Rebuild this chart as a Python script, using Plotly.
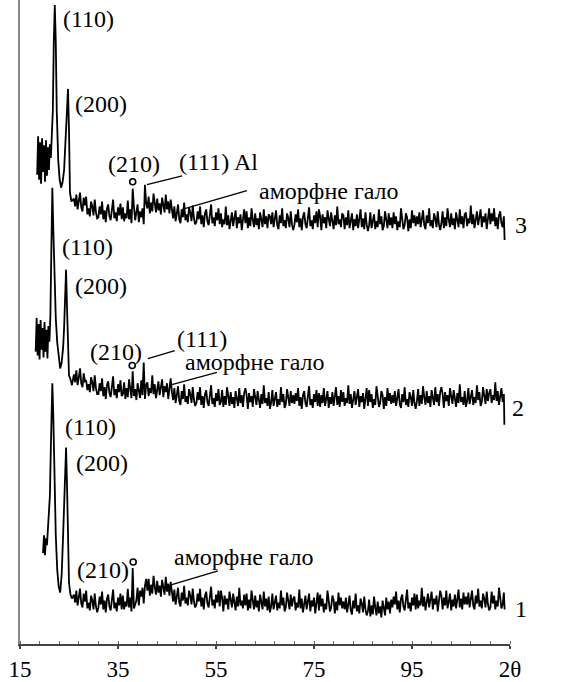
import plotly.graph_objects as go

# ---------------- data (2θ in degrees, intensity in arbitrary units, curves stacked) ----------------
theta_grid = [
    26.0, 26.25, 26.5, 26.75, 27.0, 27.25, 27.5, 27.75, 28.0, 28.25, 28.5, 28.75, 29.0, 29.25, 29.5, 29.75, 30.0, 30.25, 30.5, 30.75,
    31.0, 31.25, 31.5, 31.75, 32.0, 32.25, 32.5, 32.75, 33.0, 33.25, 33.5, 33.75, 34.0, 34.25, 34.5, 34.75, 35.0, 35.25, 35.5, 35.75,
    36.0, 36.25, 36.5, 36.75, 37.0, 37.25, 37.5, 37.75, 38.0, 38.25, 38.5, 38.75, 39.0, 39.25, 39.5, 39.75, 40.0, 40.25, 40.5, 40.75,
    41.0, 41.25, 41.5, 41.75, 42.0, 42.25, 42.5, 42.75, 43.0, 43.25, 43.5, 43.75, 44.0, 44.25, 44.5, 44.75, 45.0, 45.25, 45.5, 45.75,
    46.0, 46.25, 46.5, 46.75, 47.0, 47.25, 47.5, 47.75, 48.0, 48.25, 48.5, 48.75, 49.0, 49.25, 49.5, 49.75, 50.0, 50.25, 50.5, 50.75,
    51.0, 51.25, 51.5, 51.75, 52.0, 52.25, 52.5, 52.75, 53.0, 53.25, 53.5, 53.75, 54.0, 54.25, 54.5, 54.75, 55.0, 55.25, 55.5, 55.75,
    56.0, 56.25, 56.5, 56.75, 57.0, 57.25, 57.5, 57.75, 58.0, 58.25, 58.5, 58.75, 59.0, 59.25, 59.5, 59.75, 60.0, 60.25, 60.5, 60.75,
    61.0, 61.25, 61.5, 61.75, 62.0, 62.25, 62.5, 62.75, 63.0, 63.25, 63.5, 63.75, 64.0, 64.25, 64.5, 64.75, 65.0, 65.25, 65.5, 65.75,
    66.0, 66.25, 66.5, 66.75, 67.0, 67.25, 67.5, 67.75, 68.0, 68.25, 68.5, 68.75, 69.0, 69.25, 69.5, 69.75, 70.0, 70.25, 70.5, 70.75,
    71.0, 71.25, 71.5, 71.75, 72.0, 72.25, 72.5, 72.75, 73.0, 73.25, 73.5, 73.75, 74.0, 74.25, 74.5, 74.75, 75.0, 75.25, 75.5, 75.75,
    76.0, 76.25, 76.5, 76.75, 77.0, 77.25, 77.5, 77.75, 78.0, 78.25, 78.5, 78.75, 79.0, 79.25, 79.5, 79.75, 80.0, 80.25, 80.5, 80.75,
    81.0, 81.25, 81.5, 81.75, 82.0, 82.25, 82.5, 82.75, 83.0, 83.25, 83.5, 83.75, 84.0, 84.25, 84.5, 84.75, 85.0, 85.25, 85.5, 85.75,
    86.0, 86.25, 86.5, 86.75, 87.0, 87.25, 87.5, 87.75, 88.0, 88.25, 88.5, 88.75, 89.0, 89.25, 89.5, 89.75, 90.0, 90.25, 90.5, 90.75,
    91.0, 91.25, 91.5, 91.75, 92.0, 92.25, 92.5, 92.75, 93.0, 93.25, 93.5, 93.75, 94.0, 94.25, 94.5, 94.75, 95.0, 95.25, 95.5, 95.75,
    96.0, 96.25, 96.5, 96.75, 97.0, 97.25, 97.5, 97.75, 98.0, 98.25, 98.5, 98.75, 99.0, 99.25, 99.5, 99.75, 100.0, 100.25, 100.5, 100.75,
    101.0, 101.25, 101.5, 101.75, 102.0, 102.25, 102.5, 102.75, 103.0, 103.25, 103.5, 103.75, 104.0, 104.25, 104.5, 104.75, 105.0, 105.25, 105.5, 105.75,
    106.0, 106.25, 106.5, 106.75, 107.0, 107.25, 107.5, 107.75, 108.0, 108.25, 108.5, 108.75, 109.0, 109.25, 109.5, 109.75, 110.0, 110.25, 110.5, 110.75,
    111.0, 111.25, 111.5, 111.75, 112.0, 112.25, 112.5, 112.75, 113.0, 113.25, 113.5, 113.75,
]

# Curve 3 (top)
c3_theta_head = [18.5, 18.7, 18.9, 19.1, 19.3, 19.5, 19.7, 19.9, 20.1, 20.3,
                 20.5, 20.7, 20.9, 21.1, 21.3, 21.5, 21.7, 21.9, 22.1, 22.3,
                 22.5, 22.8, 23.1, 23.4, 23.7, 24.0, 24.2, 24.5, 24.8, 25.0,
                 25.2, 25.5]
c3_int_head = [475, 514, 470, 508, 466, 512, 478, 505, 468, 510,
               474, 503, 480, 506, 492, 517, 540, 610, 647, 610,
               540, 490, 470, 462, 468, 480, 502, 525, 562, 520,
               457, 448]
c3_int_grid = [
    451, 443, 455, 440, 448, 457, 442, 438, 452, 444, 453, 435, 441, 433, 448, 443, 434, 450, 437, 431,
    432, 443, 435, 448, 430, 439, 427, 441, 445, 433, 429, 440, 450, 431, 437, 428, 442, 434, 446, 430,
    442, 428, 436, 431, 449, 430, 440, 426, 461, 443, 429, 437, 445, 427, 438, 432, 441, 425, 465, 446,
    441, 453, 436, 447, 438, 456, 445, 437, 451, 439, 446, 435, 452, 444, 437, 455, 440, 448, 436, 450,
    439, 431, 443, 428, 436, 445, 430, 426, 440, 432, 447, 429, 435, 427, 442, 437, 428, 444, 431, 425,
    427, 438, 430, 443, 425, 434, 422, 436, 440, 428, 424, 435, 445, 426, 432, 423, 437, 429, 441, 425,
    436, 422, 430, 425, 443, 424, 434, 420, 427, 437, 423, 431, 439, 421, 432, 426, 435, 419, 433, 440,
    426, 438, 421, 432, 423, 441, 430, 422, 436, 424, 431, 420, 437, 429, 422, 440, 425, 433, 421, 435,
    433, 425, 437, 422, 430, 439, 424, 420, 434, 426, 441, 423, 429, 421, 436, 431, 422, 438, 425, 419,
    424, 435, 427, 440, 422, 431, 419, 433, 437, 425, 421, 432, 442, 423, 429, 420, 434, 426, 438, 422,
    440, 433, 419, 435, 426, 432, 421, 439, 431, 423, 437, 427, 420, 434, 424, 443, 425, 430, 422, 436,
    434, 420, 432, 424, 439, 421, 428, 436, 419, 430, 423, 435, 421, 429, 440, 422, 431, 420, 437, 425,
    418, 424, 437, 421, 430, 435, 420, 428, 422, 440, 425, 433, 419, 423, 438, 429, 421, 436, 424, 432,
    421, 437, 425, 433, 419, 428, 422, 441, 431, 420, 424, 436, 432, 418, 430, 421, 439, 426, 434, 423,
    433, 425, 437, 422, 430, 439, 424, 420, 434, 426, 441, 423, 429, 421, 436, 431, 422, 438, 425, 419,
    426, 438, 421, 432, 423, 441, 430, 422, 436, 424, 431, 420, 437, 429, 422, 440, 425, 433, 421, 435,
    437, 423, 431, 426, 444, 425, 435, 421, 428, 438, 424, 432, 440, 422, 433, 427, 436, 420, 434, 441,
    425, 436, 428, 441, 423, 432, 420, 434, 438, 426, 422, 433,
]
c3_theta_tail = [113.9]
c3_int_tail = [409]

# Curve 2 (middle)
c2_theta_head = [18.2, 18.4, 18.6, 18.8, 19.0, 19.2, 19.4, 19.6, 19.8, 20.0,
                 20.2, 20.4, 20.6, 20.8, 21.0, 21.2, 21.4, 21.6, 21.8, 22.0,
                 22.3, 22.6, 22.9, 23.2, 23.5, 23.8, 24.0, 24.2, 24.4, 24.6,
                 24.8, 25.0, 25.3, 25.6]
c2_int_head = [296, 330, 292, 324, 288, 328, 298, 320, 290, 326,
               296, 318, 289, 322, 306, 332, 400, 462, 420, 370,
               330, 305, 290, 279, 285, 300, 320, 350, 379, 340,
               290, 272, 268, 262]
c2_int_grid = [
    273, 265, 277, 262, 270, 279, 264, 260, 274, 266, 267, 257, 263, 255, 270, 265, 256, 272, 259, 253,
    253, 264, 256, 269, 251, 260, 248, 262, 266, 254, 250, 261, 271, 252, 258, 249, 263, 255, 267, 251,
    253, 265, 248, 259, 250, 268, 257, 249, 276, 251, 258, 247, 264, 256, 249, 267, 252, 285, 248, 262,
    265, 251, 259, 254, 272, 253, 263, 249, 256, 266, 252, 260, 268, 250, 261, 255, 264, 248, 262, 269,
    255, 247, 259, 244, 252, 261, 246, 242, 256, 248, 263, 245, 251, 243, 258, 253, 244, 260, 247, 241,
    244, 255, 247, 260, 242, 251, 239, 253, 257, 245, 241, 252, 262, 243, 249, 240, 254, 246, 258, 242,
    245, 257, 240, 251, 242, 260, 249, 241, 255, 243, 250, 239, 256, 248, 241, 259, 244, 252, 240, 254,
    259, 252, 238, 254, 245, 251, 240, 258, 250, 242, 256, 246, 239, 253, 243, 262, 244, 249, 241, 255,
    238, 244, 257, 241, 250, 255, 240, 248, 242, 260, 245, 253, 239, 243, 258, 249, 241, 256, 244, 252,
    243, 254, 246, 259, 241, 250, 238, 252, 256, 244, 240, 251, 261, 242, 248, 239, 253, 245, 257, 241,
    254, 240, 252, 244, 259, 241, 248, 256, 239, 250, 243, 255, 241, 249, 260, 242, 251, 240, 257, 245,
    255, 241, 249, 244, 262, 243, 253, 239, 246, 256, 242, 250, 258, 240, 251, 245, 254, 238, 252, 259,
    241, 257, 245, 253, 239, 248, 242, 261, 251, 240, 244, 256, 252, 238, 250, 241, 259, 246, 254, 243,
    252, 244, 256, 241, 249, 258, 243, 239, 253, 245, 260, 242, 248, 240, 255, 250, 241, 257, 244, 238,
    246, 258, 241, 252, 243, 261, 250, 242, 256, 244, 251, 240, 257, 249, 242, 260, 245, 253, 241, 255,
    260, 253, 239, 255, 246, 252, 241, 259, 251, 243, 257, 247, 240, 254, 244, 263, 245, 250, 242, 256,
    240, 246, 259, 243, 252, 257, 242, 250, 244, 262, 247, 255, 241, 245, 260, 251, 243, 258, 246, 254,
    258, 244, 252, 247, 265, 246, 256, 242, 249, 259, 245, 253,
]
c2_theta_tail = [113.85]
c2_int_tail = [222]

# Curve 1 (bottom)
c1_theta_head = [19.7, 19.9, 20.1, 20.3, 20.5, 20.7, 20.9, 21.1, 21.3, 21.5,
                 21.6, 21.8, 22.0, 22.3, 22.6, 22.9, 23.2, 23.5, 23.8, 24.1,
                 24.4, 24.6, 24.8, 25.0, 25.3, 25.6]
c1_int_head = [92, 110, 90, 107, 100, 115, 124, 150, 200, 255,
               264, 230, 170, 110, 75, 58, 52, 70, 110, 160,
               199, 160, 90, 62, 50, 46]
c1_int_grid = [
    50, 42, 54, 39, 47, 56, 41, 37, 51, 43, 54, 36, 42, 34, 49, 44, 35, 51, 38, 32,
    37, 48, 40, 53, 35, 44, 32, 46, 50, 38, 34, 45, 55, 36, 42, 33, 47, 39, 51, 35,
    49, 35, 43, 38, 56, 37, 47, 33, 77, 36, 40, 44, 57, 39, 54, 48, 57, 41, 59, 66,
    54, 66, 49, 60, 51, 69, 58, 50, 64, 52, 59, 48, 65, 57, 50, 68, 53, 61, 49, 63,
    51, 43, 55, 40, 48, 57, 42, 38, 52, 44, 59, 41, 47, 39, 54, 49, 40, 56, 43, 37,
    40, 51, 43, 56, 38, 47, 35, 49, 53, 41, 37, 48, 58, 39, 45, 36, 50, 42, 54, 38,
    54, 47, 33, 49, 40, 46, 35, 53, 45, 37, 51, 41, 34, 48, 38, 57, 39, 44, 36, 50,
    39, 51, 34, 45, 36, 54, 43, 35, 49, 37, 44, 33, 50, 42, 35, 53, 38, 46, 34, 48,
    32, 38, 51, 35, 44, 49, 34, 42, 36, 54, 39, 47, 33, 37, 52, 43, 35, 50, 38, 46,
    48, 34, 42, 37, 55, 36, 46, 32, 39, 49, 35, 43, 51, 33, 44, 38, 47, 31, 45, 52,
    34, 50, 38, 46, 32, 41, 35, 54, 44, 33, 37, 49, 45, 31, 43, 34, 52, 39, 47, 36,
    43, 35, 47, 32, 40, 49, 34, 30, 44, 36, 51, 33, 39, 31, 46, 41, 32, 48, 35, 29,
    33, 45, 28, 39, 30, 48, 37, 29, 43, 31, 38, 27, 44, 36, 29, 47, 35, 43, 31, 45,
    37, 48, 40, 53, 35, 44, 32, 46, 50, 38, 34, 45, 55, 36, 42, 33, 47, 39, 51, 35,
    50, 36, 44, 39, 57, 38, 48, 34, 41, 51, 37, 45, 53, 35, 46, 40, 49, 33, 47, 54,
    49, 35, 47, 39, 54, 36, 43, 51, 34, 45, 38, 50, 36, 44, 55, 37, 46, 35, 52, 40,
    48, 40, 52, 37, 45, 54, 39, 35, 49, 41, 56, 38, 44, 36, 51, 46, 37, 53, 40, 34,
    37, 53, 41, 49, 35, 44, 38, 57, 47, 36, 40, 52,
]
c1_theta_tail = [113.9]
c1_int_tail = [35]

tick_vals = [15, 35, 55, 75, 95, 115]
tick_text = ["15", "35", "55", "75", "95", "2θ"]

# peak labels: (text, 2θ of left edge, intensity)
labels = [
    ("(110)", 23.4, 633), ("(200)", 25.8, 547), ("(210)", 32.6, 486),
    ("(111) Al", 47.0, 488), ("аморфне гало", 63.4, 459),
    ("(110)", 23.2, 402), ("(200)", 25.8, 362), ("(210)", 28.9, 296),
    ("(111)", 46.6, 309), ("аморфне гало", 48.3, 286),
    ("(110)", 23.8, 220), ("(200)", 26.0, 183), ("(210)", 26.2, 75),
    ("аморфне гало", 46.0, 88),
]
curve_names = [("3", 117.2, 424), ("2", 116.6, 239), ("1", 117.2, 35)]
# leader lines: (2θ0, I0, 2θ1, I1)
leaders = [
    (40.9, 465, 48.1, 474), (48.1, 440, 61.3, 459),
    (41.1, 289, 46.6, 297), (45.6, 262, 55.2, 275),
    (46.0, 60, 55.4, 74),
]
# (210) markers
marker_theta = [38.0, 37.9, 38.1]
marker_int = [468, 282, 83]

x_range = [15, 115]

for arr in (c3_int_grid, c2_int_grid, c1_int_grid):
    assert len(arr) == len(theta_grid), (len(arr), len(theta_grid))
assert len(c3_theta_head) == len(c3_int_head)
assert len(c2_theta_head) == len(c2_int_head)
assert len(c1_theta_head) == len(c1_int_head)

# ---------------- figure ----------------
fig = go.Figure()
serif = "Liberation Serif, Times New Roman, serif"

for th, ih, it, tt, ti in [
    (c3_theta_head, c3_int_head, c3_int_grid, c3_theta_tail, c3_int_tail),
    (c2_theta_head, c2_int_head, c2_int_grid, c2_theta_tail, c2_int_tail),
    (c1_theta_head, c1_int_head, c1_int_grid, c1_theta_tail, c1_int_tail),
]:
    fig.add_trace(go.Scatter(
        x=th + theta_grid + tt, y=ih + it + ti, mode="lines",
        line=dict(color="black", width=1.8), showlegend=False, hoverinfo="skip"))

fig.add_trace(go.Scatter(
    x=marker_theta, y=marker_int, mode="markers",
    marker=dict(symbol="circle-open", size=6, color="black", line=dict(width=1.6)),
    showlegend=False, hoverinfo="skip"))

for text, x, y in labels:
    fig.add_annotation(x=x, y=y, text=text, showarrow=False, xanchor="left",
                       yanchor="middle", font=dict(family=serif, size=24, color="black"))
for text, x, y in curve_names:
    xp = (x - x_range[0]) / (x_range[1] - x_range[0])
    fig.add_annotation(x=xp, xref="paper", y=y, yref="y", text=text, showarrow=False,
                       xanchor="center", yanchor="middle",
                       font=dict(family=serif, size=24, color="black"))
for x0, y0, x1, y1 in leaders:
    fig.add_shape(type="line", x0=x0, y0=y0, x1=x1, y1=y1,
                  line=dict(color="black", width=1.3))

fig.update_layout(
    width=566, height=682,
    margin=dict(l=20, r=56, t=0, b=30),
    paper_bgcolor="white", plot_bgcolor="white",
    xaxis=dict(range=x_range, showgrid=False, zeroline=False,
               showline=True, linecolor="#444", linewidth=2,
               tickmode="array", tickvals=tick_vals, ticktext=tick_text,
               ticks="outside", ticklen=3, tickwidth=1.5, tickcolor="#444",
               tickfont=dict(family=serif, size=23, color="black"),
               minor=dict(dtick=4, tick0=15, ticks="inside", ticklen=3,
                          tickcolor="#666", tickwidth=1, showgrid=False)),
    yaxis=dict(range=[0, 652], showgrid=False, zeroline=False,
               showline=True, linecolor="#888", linewidth=2,
               showticklabels=False, ticks=""),
)

fig.write_html("out.html")
